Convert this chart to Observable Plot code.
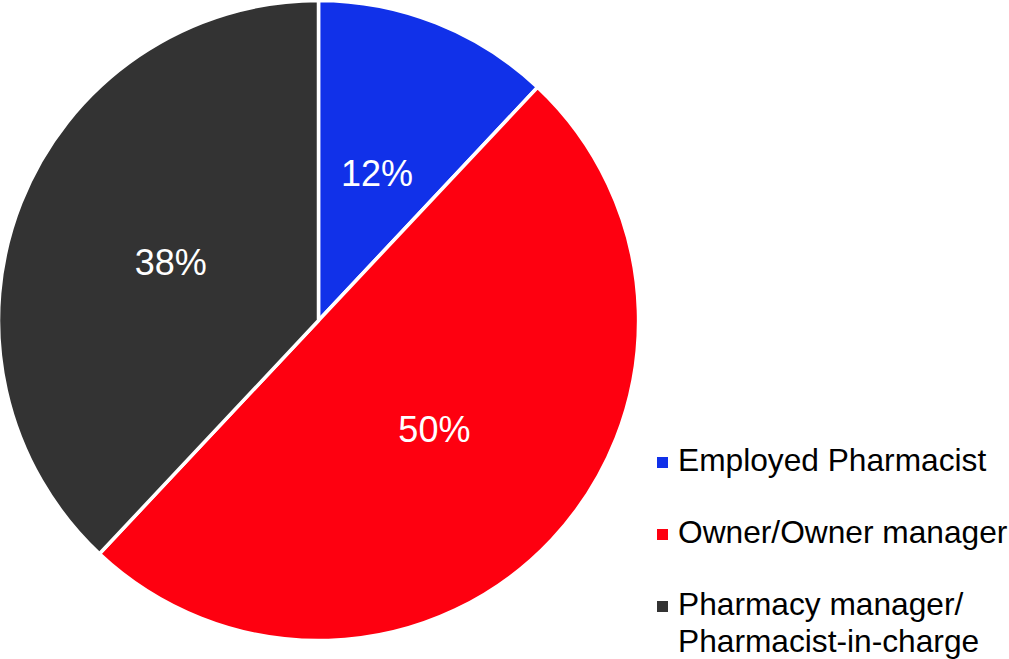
<!DOCTYPE html>
<html>
<head>
<meta charset="utf-8">
<script src="https://cdn.jsdelivr.net/npm/d3@7"></script>
<script src="https://cdn.jsdelivr.net/npm/@observablehq/plot@0.6"></script>
<style>
  html, body { margin: 0; padding: 0; background: #fff; }
  #wrap { position: relative; width: 1009px; height: 659px; overflow: hidden; font-family: "Liberation Sans", Arial, sans-serif; }
  #legend { position: absolute; left: 678px; top: 442px; display: flex; flex-direction: column; gap: 35px; }
  .item { position: relative; font-size: 31.7px; line-height: 37px; color: #000; white-space: pre; }
  .sw { position: absolute; left: -21px; top: 15px; width: 11px; height: 11px; }
</style>
</head>
<body>
<div id="wrap"></div>
<script>
const categories = ["Employed Pharmacist", "Owner/Owner manager", "Pharmacy manager/\nPharmacist-in-charge"];
const shares = [12, 50, 38];
const colors = ["#1131E9", "#FE0010", "#333333"];
const labels = ["12%", "50%", "38%"];

const data = categories.map((c, i) => ({category: c, share: shares[i], label: labels[i]}));

const pie = Plot.dot(data, {
  x: null,
  y: null,
  fill: "category",
  render(index, scales, values, dimensions) {
    const cx = 318.5, cy = 320.5, r = 320;
    const arcs = d3.pie().sort(null).value(i => data[i].share)(Array.from(index));
    const arc = d3.arc().innerRadius(0).outerRadius(r);
    const labelArc = d3.arc().innerRadius(0).outerRadius(318);
    const g = d3.create("svg:g").attr("transform", `translate(${cx},${cy})`);
    g.selectAll("path").data(arcs).join("path")
      .attr("d", arc)
      .attr("fill", a => values.fill[a.data])
      .attr("stroke", "white")
      .attr("stroke-width", 3.5)
      .attr("stroke-linejoin", "round");
    g.selectAll("text").data(arcs).join("text")
      .attr("transform", a => `translate(${labelArc.centroid(a)})`)
      .attr("text-anchor", "middle")
      .attr("dy", "0.36em")
      .attr("fill", "white")
      .attr("font-size", 36)
      .attr("font-family", "Liberation Sans, Arial, sans-serif")
      .text(a => data[a.data].label);
    return g.node();
  }
});

const plot = Plot.plot({
  width: 1009,
  height: 659,
  margin: 0,
  style: {background: "white", overflow: "visible"},
  color: {domain: categories, range: colors},
  marks: [pie]
});

const wrap = document.getElementById("wrap");
wrap.appendChild(plot);

const colorScale = plot.scale("color");
const legend = document.createElement("div");
legend.id = "legend";
colorScale.domain.forEach((c, i) => {
  const item = document.createElement("div");
  item.className = "item";
  const sw = document.createElement("span");
  sw.className = "sw";
  sw.style.background = colorScale.range[i];
  item.appendChild(sw);
  item.appendChild(document.createTextNode(c));
  legend.appendChild(item);
});
wrap.appendChild(legend);
</script>
</body>
</html>
